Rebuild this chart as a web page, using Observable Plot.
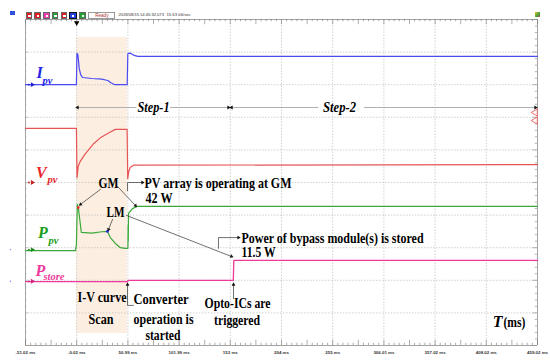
<!DOCTYPE html>
<html><head><meta charset="utf-8">
<script src="https://cdn.jsdelivr.net/npm/d3@7"></script>
<script src="https://cdn.jsdelivr.net/npm/@observablehq/plot@0.6"></script>
<style>
body{margin:0;background:#fff;}
#wrap{position:relative;width:550px;height:360px;overflow:hidden;background:#fff;}
#wrap svg{position:absolute;left:0;top:0;overflow:visible;}
.tb{position:absolute;box-sizing:border-box;}
.btn{top:12px;width:6.5px;height:6.5px;border:0.5px solid #666;}
.btn i{position:absolute;left:1.5px;top:1.5px;width:2.5px;height:2.5px;border:0.6px solid #fff;box-sizing:border-box;}
.small{font-family:"Liberation Sans",Arial,sans-serif;font-size:4.2px;color:#333;white-space:nowrap;line-height:6px;}
</style></head><body>
<div id="wrap">
  <div class="tb" style="left:10px;top:11px;width:5px;height:4px;background:#3050e0;"></div>
  <div class="tb btn" style="left:25.7px;background:#e02020;"><i></i></div>
  <div class="tb btn" style="left:34.3px;background:#e02020;"><i></i></div>
  <div class="tb btn" style="left:43.3px;background:#f040b0;"><i></i></div>
  <div class="tb btn" style="left:51.7px;background:#20a030;"><i></i></div>
  <div class="tb btn" style="left:60.7px;background:#e02020;"><i></i></div>
  <div class="tb btn" style="left:69.3px;width:7.4px;background:#2040e0;border-color:#111;"><i></i></div>
  <div class="tb btn" style="left:79px;background:#20a030;"><i></i></div>
  <div class="tb small" style="left:88.3px;top:12px;width:27px;height:6.5px;border:0.5px solid #999;background:#fff;color:#b03030;text-align:center;font-size:4.6px;line-height:6px;">Ready</div>
  <div class="tb small" style="left:118.5px;top:12px;letter-spacing:-0.05px;">2018/08/15 14:45:32.073</div>
  <div class="tb small" style="left:166.5px;top:12px;">15.63 kS/sec</div>
  <div class="tb" style="left:535px;top:12px;width:5px;height:5px;background:linear-gradient(135deg,#f0c020,#40a040 60%,#e04040);"></div>
</div>
<script>
// ---------- axis / ruler data ----------
const X0 = -51.02, X1 = 459.02;
const timeTicks = [-51.02, -0.02, 50.99, 101.99, 153, 204, 255, 306.01, 357.02, 408.02, 459.02];
const tickLabels = ["-51.02 ms","-0.02 ms","50.99 ms","101.99 ms","153 ms","204 ms","255 ms","306.01 ms","357.02 ms","408.02 ms","459.02 ms"];
const divisions = [0,1,2,3,4,5,6,7,8,9,10];

// ---------- traces (time ms, screen divisions) ----------
const ipv = [[-51.02,8.0],[-0.3,8.0],[0.2,8.96],[1.2,8.92],[2.5,8.5],[4,8.3],[6,8.22],[15,8.19],[25,8.17],[31,8.13],[34,8.06],[38,8.0],[50.3,8.0],[50.9,8.94],[52,8.97],[54,8.96],[57,8.9],[61,8.87],[459.02,8.87]];
const vpv = [[-51.02,6.66],[-0.3,6.66],[0.3,5.15],[1.5,5.5],[3.5,5.65],[8.5,5.88],[16.5,6.18],[23.5,6.37],[33.5,6.55],[38.5,6.63],[50.2,6.63],[50.8,5.12],[52,5.35],[53.5,5.47],[56.5,5.53],[459.02,5.55]];
const ppv = [[-51.02,2.91],[-1.2,2.91],[-0.3,3.1],[0.6,4.33],[1.6,4.23],[4.6,3.47],[15,3.45],[25,3.49],[30.6,3.5],[33.5,3.31],[38.5,3.13],[43.5,3.0],[48.5,2.98],[51.0,2.98],[51.2,3.7],[51.35,3.2],[51.6,4.05],[55.5,4.2],[60.5,4.27],[459.02,4.27]];
const pstore = [[-51.02,1.96],[50.6,1.96],[51.2,2.0],[156.0,2.0],[156.5,2.61],[459.02,2.61]];
const gmPoint = [[1.6,4.23]];
const lmPoint = [[30.6,3.5]];
const scanWindow = [{t1:-0.02, t2:50.5, v1:0.37, v2:9.45}];

// ---------- channel labels ----------
const channelMain = [
  {text:"I", t:-40.1, v:8.37, c:"#2323e6"},
  {text:"V", t:-40.6, v:5.31, c:"#e8262c"},
  {text:"P", t:-38.6, v:3.47, c:"#1c9e1c"},
  {text:"P", t:-41.1, v:2.29, c:"#ee3a9c"}
];
const channelSub = [
  {text:"pv", t:-34.1, v:8.14, c:"#2323e6"},
  {text:"pv", t:-29.1, v:5.09, c:"#e8262c"},
  {text:"pv", t:-28.1, v:3.22, c:"#1c9e1c"},
  {text:"store", t:-33.1, v:2.12, c:"#ee3a9c"}
];
const channelMarks = [
  {v:8.0, c:"#2020d0"}, {v:5.0, c:"#c02020"}, {v:2.94, c:"#188a18"}, {v:1.97, c:"#d02080"}
];

// ---------- annotations ----------
const notes = [
  {text:"GM", t:31.7, v:4.97, a:"middle", w:20},
  {text:"LM", t:38.6, v:4.08, a:"middle", w:18},
  {text:"PV array is operating at GM", t:67.5, v:4.97, a:"start", w:147},
  {text:"42 W", t:68.5, v:4.51, a:"start", w:27},
  {text:"Power of bypass module(s) is stored", t:164.2, v:3.28, a:"start", w:182},
  {text:"11.5 W", t:164.2, v:2.85, a:"start", w:34}
];
const bottomNotes = [
  {text:"I-V curve", t:25.2, v:1.47, a:"middle", w:49},
  {text:"Scan", t:24.2, v:0.80, a:"middle", w:25},
  {text:"Converter", t:56.6, v:1.41, a:"start", w:55},
  {text:"operation is", t:86.5, v:0.80, a:"middle", w:60},
  {text:"started", t:85.9, v:0.31, a:"middle", w:35},
  {text:"Opto-ICs are", t:160.2, v:1.29, a:"middle", w:66},
  {text:"triggered", t:159.7, v:0.77, a:"middle", w:46},
  {text:"(ms)", t:436.1, v:0.71, a:"middle", w:22}
];
const stepNotes = [
  {text:"Step-1", t:76.5, v:7.30, w:32},
  {text:"Step-2", t:261.8, v:7.30, w:33}
];
const axisTitle = [{text:"T", t:419.2, v:0.71}];
const connectors = [
  [[23.7,4.79],[3.8,4.33]],
  [[40.6,4.88],[58.6,4.29]],
  [[35.7,3.87],[31.7,3.56]],
  [[49.6,3.99],[154.2,2.73]],
  [[50.6,4.75],[50.6,5.0],[65.5,5.0]],
  [[141.2,2.98],[141.2,3.31],[161.2,3.31]],
  [[56.5,1.23],[50.6,1.23],[50.6,1.87]],
  [[156.2,1.44],[156.2,1.87]]
];
const stepArrows = [
  [[59,7.3],[0.8,7.3]], [[93.5,7.3],[151.2,7.3]],
  [[240.5,7.3],[154.2,7.3]], [[286.5,7.3],[457,7.3]]
];

// ---------- layout ----------
const W = 550, H = 360, mL = 25, mR = 13, mT = 19, mB = 15;
const kx = (W - mL - mR) / (X1 - X0), ky = (H - mT - mB) / 10;
function heads(list){
  return list.map(pts => {
    const p1 = pts[pts.length-1], p0 = pts[pts.length-2];
    const dx = (p1[0]-p0[0])*kx, dy = -(p1[1]-p0[1])*ky;
    return {t:p1[0], v:p1[1], r: Math.atan2(dy,dx)*180/Math.PI + 90};
  });
}
function flat(list){ return list.flatMap((pts,i) => pts.map(p => ({t:p[0], v:p[1], id:i}))); }

const sub = d3.range(0, 101).map(i => ({t: X0 + i*(X1-X0)/100, k: i%10===0 ? 2 : (i%10===5 ? 1 : 0)}));
const vsub = d3.range(0, 51).map(i => ({v: i*0.2, k: i%5===0 ? 1 : 0}));

const serif = "Liberation Serif, Times New Roman, serif";
const fx = d => d[0], fy = d => d[1];
const allNotes = [...notes.map(d => ({...d, fs:14})), ...bottomNotes.map(d => ({...d, fs:14.5}))];
const noteText = (anchor, fs) => Plot.text(allNotes.filter(d => d.a === anchor && d.fs === fs),
  {x:"t", y:"v", text:"text", textAnchor:anchor, fill:"#000", fontFamily:serif, fontSize:fs, fontWeight:"bold"});

const plot = Plot.plot({
  width: W, height: H, marginLeft: mL, marginRight: mR, marginTop: mT, marginBottom: mB,
  x: {domain: [X0, X1], axis: null},
  y: {domain: [0, 10], axis: null},
  style: {background: "transparent", overflow: "visible"},
  marks: [
    Plot.rect(scanWindow, {x1:"t1", x2:"t2", y1:"v1", y2:"v2", fill:"#fcefe2"}),
    Plot.ruleX(timeTicks.slice(1,-1), {y1:0, y2:10, stroke:"#bdbdbd", strokeWidth:0.7, strokeDasharray:"1.5,1.5"}),
    Plot.ruleY(divisions.slice(1,-1), {x1:X0, x2:X1, stroke:"#bdbdbd", strokeWidth:0.7, strokeDasharray:"1.5,1.5"}),
    Plot.ruleX([X0], {y1:0, y2:10, stroke:"#9a9a9a", strokeWidth:0.9}),
    Plot.ruleX([X1], {y1:0, y2:10, stroke:"#9a9a9a", strokeWidth:0.9}),
    Plot.ruleY([0, 10], {x1:X0, x2:X1, stroke:"#9a9a9a", strokeWidth:0.9}),
    Plot.ruleX(sub, {x:"t", y1:0, y2:d => [0.07,0.16,0.16][d.k], stroke:"#777", strokeWidth:0.6}),
    Plot.ruleX(sub, {x:"t", y1:10, y2:d => 10-[0.07,0.16,0.16][d.k], stroke:"#777", strokeWidth:0.6}),
    Plot.ruleY(vsub, {y:"v", x1:X1, x2:d => X1 - [2.2,4.5][d.k], stroke:"#888", strokeWidth:0.6}),
    Plot.ruleY(vsub, {y:"v", x1:X0, x2:d => X0 + [1.5,3][d.k], stroke:"#999", strokeWidth:0.5}),
    Plot.text(timeTicks, {x:d=>d, y:-0.22, text:(d,i)=>tickLabels[i], fontSize:4.4, fill:"#333", fontFamily:"Liberation Sans, Arial, sans-serif", fontWeight:"bold"}),
    // traces
    Plot.line(pstore, {x:fx, y:fy, stroke:"#f0399c", strokeWidth:1.3}),
    Plot.line(ppv, {x:fx, y:fy, stroke:"#3aa83a", strokeWidth:1.2}),
    Plot.line(vpv, {x:fx, y:fy, stroke:"#e65555", strokeWidth:1.2}),
    Plot.line(ipv, {x:fx, y:fy, stroke:"#4a4af2", strokeWidth:1.2}),
    Plot.dot(gmPoint, {x:fx, y:fy, r:1.3, fill:"#ff2020"}),
    Plot.dot(lmPoint, {x:fx, y:fy, r:1.3, fill:"#2020ff"}),
    // channel markers
    Plot.dot(channelMarks, {x:-44.3, y:"v", symbol:"triangle2", rotate:90, r:2.3, fill:"c"}),
    Plot.dot(channelMarks, {x:-47.6, y:"v", r:0.9, fill:"c"}),
    Plot.dot(channelMarks.slice(2), {x:-66, y:"v", r:0.7, fill:"#8080ff"}),
    Plot.dot([7.15, 6.9], {x:456.8, y:d=>d, symbol:"triangle", rotate:-90, r:2.6, stroke:"#e84b4b", fill:"#fff", strokeWidth:0.8}),
    Plot.dot([9.9], {x:-0.02, y:d=>d, symbol:"triangle2", rotate:180, r:2.6, fill:"#000"}),
    // connectors
    Plot.line(flat(stepArrows), {x:"t", y:"v", z:"id", stroke:"#9a9a9a", strokeWidth:0.8}),
    Plot.dot(heads(stepArrows), {x:"t", y:"v", rotate:"r", symbol:"triangle2", r:1.9, fill:"#111"}),
    Plot.line(flat(connectors), {x:"t", y:"v", z:"id", stroke:"#333", strokeWidth:0.7}),
    Plot.dot(heads(connectors), {x:"t", y:"v", rotate:"r", symbol:"triangle2", r:1.8, fill:"#111"}),
    // texts
    Plot.text(channelMain, {x:"t", y:"v", text:"text", fill:"c", textAnchor:"start", fontFamily:serif, fontSize:16, fontWeight:"bold", fontStyle:"italic"}),
    Plot.text(channelSub, {x:"t", y:"v", text:"text", fill:"c", textAnchor:"start", fontFamily:serif, fontSize:10.5, fontWeight:"bold", fontStyle:"italic"}),
    noteText("middle", 14), noteText("start", 14),
    noteText("middle", 14.5), noteText("start", 14.5),
    Plot.text(stepNotes, {x:"t", y:"v", text:"text", fill:"#000", fontFamily:serif, fontSize:15, fontWeight:"bold", fontStyle:"italic"}),
    Plot.text(axisTitle, {x:"t", y:"v", text:"text", fill:"#000", fontFamily:serif, fontSize:16, fontWeight:"bold", fontStyle:"italic"})
  ]
});

// horizontal compression of the screenshot's text
const widths = new Map([...notes, ...bottomNotes, ...stepNotes].map(d => [d.text, d.w]));
d3.select(plot).selectAll("text").each(function(){
  const w = widths.get(this.textContent);
  if (w) { this.setAttribute("textLength", w); this.setAttribute("lengthAdjust", "spacingAndGlyphs"); }
});
document.getElementById("wrap").appendChild(plot);
</script>
</body></html>
